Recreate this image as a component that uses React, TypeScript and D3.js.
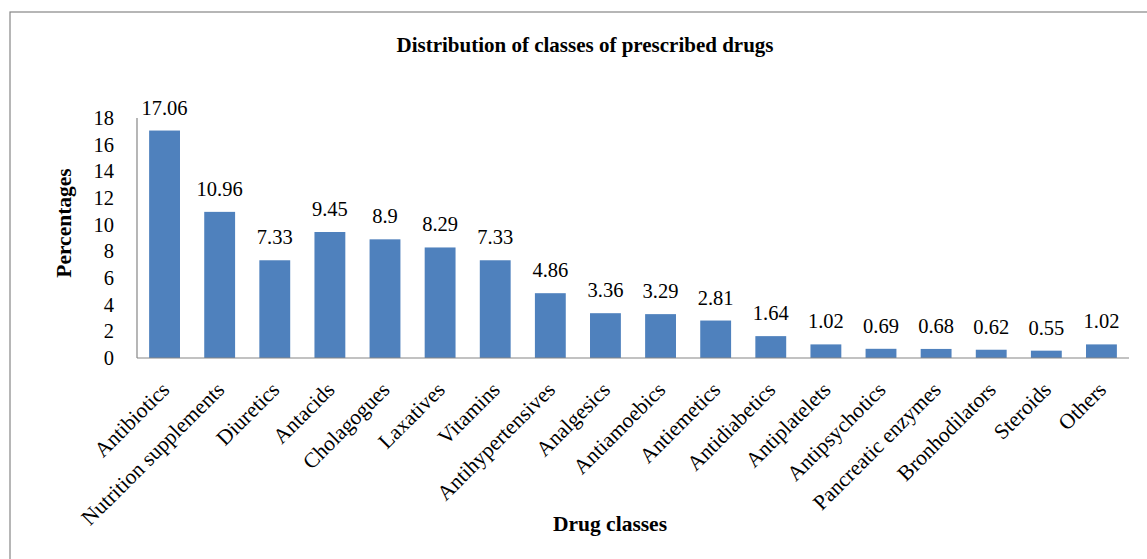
import React from "react";
import * as d3 from "d3";

const categories = [
  "Antibiotics", "Nutrition supplements", "Diuretics", "Antacids", "Cholagogues",
  "Laxatives", "Vitamins", "Antihypertensives", "Analgesics", "Antiamoebics",
  "Antiemetics", "Antidiabetics", "Antiplatelets", "Antipsychotics",
  "Pancreatic enzymes", "Bronhodilators", "Steroids", "Others",
];
const values = [17.06, 10.96, 7.33, 9.45, 8.9, 8.29, 7.33, 4.86, 3.36, 3.29, 2.81, 1.64, 1.02, 0.69, 0.68, 0.62, 0.55, 1.02];
const valueLabels = ["17.06", "10.96", "7.33", "9.45", "8.9", "8.29", "7.33", "4.86", "3.36", "3.29", "2.81", "1.64", "1.02", "0.69", "0.68", "0.62", "0.55", "1.02"];
const yTicks = [0, 2, 4, 6, 8, 10, 12, 14, 16, 18];

const W = 1147, H = 559;
const plot = { left: 137, right: 1129, top: 118, bottom: 358 };
const font = "'Liberation Serif', 'Times New Roman', serif";

export default function App() {
  const x = d3.scaleBand<string>().domain(categories).range([plot.left, plot.right]).paddingInner(0.44).paddingOuter(0.22);
  const y = d3.scaleLinear().domain([0, 18]).range([plot.bottom, plot.top]);
  return (
    <svg width={W} height={H} style={{ position: "absolute", left: 0, top: 0, display: "block", background: "#fff" }} fontFamily={font}>
      <rect x={10} y={12} width={1150} height={560} fill="none" stroke="#868686" strokeWidth={1.2} />
      <text x={585} y={52} textAnchor="middle" fontSize={21} fontWeight="bold">Distribution of classes of prescribed drugs</text>
      {categories.map((c, i) => (
        <rect key={c} x={x(c)} y={y(values[i])} width={x.bandwidth()} height={plot.bottom - y(values[i])} fill="#4F81BD" />
      ))}
      <line x1={plot.left} x2={plot.left} y1={plot.top} y2={plot.bottom} stroke="#868686" strokeWidth={1.2} />
      <line x1={plot.left} x2={plot.right} y1={plot.bottom} y2={plot.bottom} stroke="#868686" strokeWidth={1.2} />
      {yTicks.map((t) => (
        <text key={t} x={114} y={y(t) + 7} textAnchor="end" fontSize={20.5}>{t}</text>
      ))}
      {categories.map((c, i) => (
        <text key={c} x={x(c)! + x.bandwidth() / 2} y={y(values[i]) - 16} textAnchor="middle" fontSize={20.5}>{valueLabels[i]}</text>
      ))}
      {categories.map((c) => {
        const cx = x(c)! + x.bandwidth() / 2 + 6;
        const cy = 391;
        return (
          <text key={c} x={cx} y={cy} textAnchor="end" fontSize={21.5} transform={`rotate(-45 ${cx} ${cy})`}>{c}</text>
        );
      })}
      <text x={0} y={0} transform={`translate(71 ${223}) rotate(-90)`} textAnchor="middle" fontSize={21.5} fontWeight="bold">Percentages</text>
      <text x={610} y={531} textAnchor="middle" fontSize={21.5} fontWeight="bold">Drug classes</text>
    </svg>
  );
}
